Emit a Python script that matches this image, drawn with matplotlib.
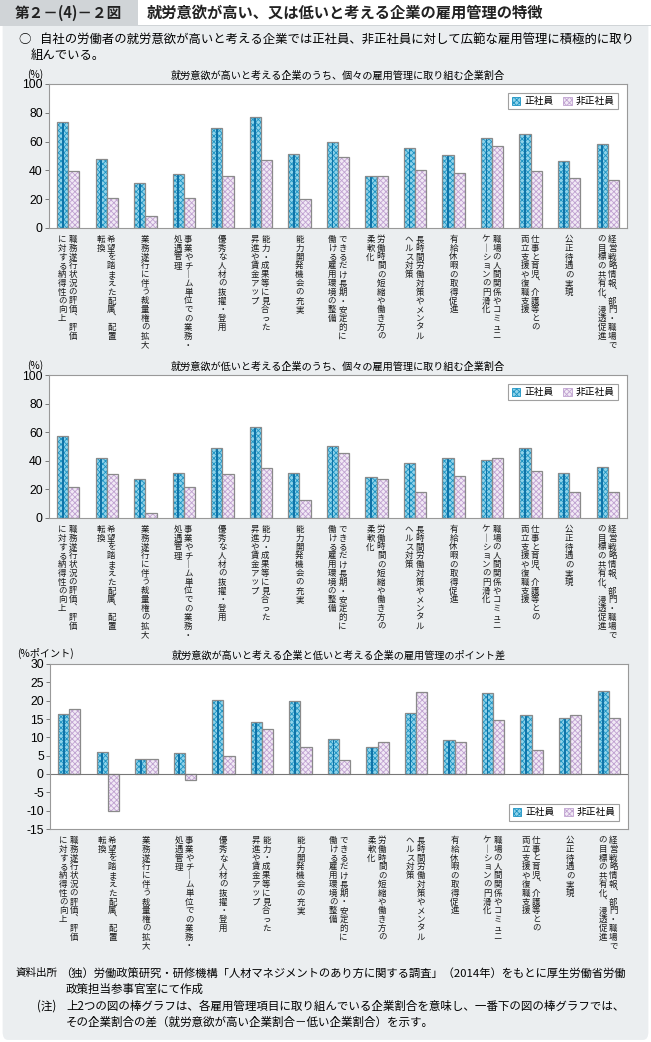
import numpy as np
import matplotlib
matplotlib.use('Agg')
import matplotlib.pyplot as plt
from matplotlib.patches import Patch, Rectangle, FancyBboxPatch
from matplotlib.transforms import offset_copy

plt.rcParams['font.family'] = ['Noto Sans CJK JP', 'DejaVu Sans']
plt.rcParams['hatch.linewidth'] = 0.6
plt.rcParams['axes.unicode_minus'] = False

# ---- data -------------------------------------------------------------
categories = [
    ['職務遂行状況の評価、評価', 'に対する納得性の向上'],
    ['希望を踏まえた配属、配置', '転換'],
    ['業務遂行に伴う裁量権の拡大'],
    ['事業やチーム単位での業務・', '処遇管理'],
    ['優秀な人材の抜擢・登用'],
    ['能力・成果等に見合った', '昇進や賃金アップ'],
    ['能力開発機会の充実'],
    ['できるだけ長期・安定的に', '働ける雇用環境の整備'],
    ['労働時間の短縮や働き方の', '柔軟化'],
    ['長時間労働対策やメンタル', 'ヘルス対策'],
    ['有給休暇の取得促進'],
    ['職場の人間関係やコミュニ', 'ケーションの円滑化'],
    ['仕事と育児、介護等との', '両立支援や復職支援'],
    ['公正待遇の実現'],
    ['経営戦略情報、部門・職場で', 'の目標の共有化、浸透促進'],
]
series_names = ['正社員', '非正社員']

high_regular = [73.6, 47.7, 31.2, 37.5, 69.2, 77.3, 51.4, 59.7, 35.9, 55.3, 50.9, 62.5, 65.0, 46.8, 58.3]
high_nonreg = [39.6, 20.8, 8.1, 20.8, 36.1, 47.0, 20.1, 49.3, 36.1, 40.5, 38.2, 57.2, 39.4, 34.5, 33.3]

low_regular = [57.4, 41.9, 27.4, 31.4, 48.8, 63.5, 31.4, 50.3, 28.8, 38.6, 41.9, 40.5, 48.8, 31.4, 35.8]
low_nonreg = [21.9, 30.9, 3.7, 21.9, 30.9, 34.9, 12.6, 45.8, 27.4, 18.1, 29.3, 41.9, 32.8, 18.1, 18.1]

diff_regular = [16.3, 6.1, 4.2, 5.7, 20.3, 14.1, 19.9, 9.5, 7.3, 16.6, 9.2, 22.1, 16.1, 15.3, 22.6]
diff_nonreg = [17.7, -10.1, 4.2, -1.5, 4.8, 12.2, 7.5, 3.7, 8.8, 22.3, 8.8, 14.7, 6.5, 16.0, 15.3]

titles = [
    '就労意欲が高いと考える企業のうち、個々の雇用管理に取り組む企業割合',
    '就労意欲が低いと考える企業のうち、個々の雇用管理に取り組む企業割合',
    '就労意欲が高いと考える企業と低いと考える企業の雇用管理のポイント差',
]

# ---- figure -----------------------------------------------------------
W, H = 651, 1042
fig = plt.figure(figsize=(W / 100, H / 100), dpi=100)
fig.patch.set_facecolor('white')

BLUE_FILL = '#8fd3ea'
BLUE_HATCH = '#1c93c3'
BLUE_DARK = '#0f73a8'
PURP_FILL = '#f1e9f5'
PURP_HATCH = '#c0a2d1'
EDGE = '#8a8a8a'
VERT = {'ー': '｜', '、': '︑', '。': '︒'}


def px_axes(left, top, right, bottom):
    return fig.add_axes([left / W, 1 - bottom / H, (right - left) / W, (bottom - top) / H])


def fig_text(x, y, s, **kw):
    fig.text(x / W, 1 - y / H, s, **kw)


def draw_chart(ax, reg, non, ylim, yticks, title, ylabel, ylabel_x, legend_loc):
    x = np.arange(len(reg))
    w = 0.29
    ax.set_facecolor('white')
    ax.bar(x - w / 2, reg, w, color=BLUE_FILL, edgecolor=BLUE_HATCH, hatch='xxxxxx', linewidth=0)
    ax.bar(x - w / 2, reg, w * 0.16, color=BLUE_DARK, linewidth=0)
    ax.bar(x - w / 2, reg, w, fill=False, edgecolor=EDGE, linewidth=0.9)
    ax.bar(x + w / 2, non, w, color=PURP_FILL, edgecolor=PURP_HATCH, hatch='xxxxxx', linewidth=0)
    ax.bar(x + w / 2, non, w, fill=False, edgecolor=EDGE, linewidth=0.9)
    if ylim[0] < 0:
        ax.axhline(0, color='#777777', linewidth=0.8)
    ax.set_xlim(-0.5, len(reg) - 0.5)
    ax.set_ylim(*ylim)
    ax.set_yticks(yticks)
    ax.set_xticks([])
    ax.tick_params(axis='y', direction='out', length=3, width=0.6, color='#666666',
                   labelsize=8.8, pad=1.5, labelfontfamily='Liberation Sans')
    for sp in ax.spines.values():
        sp.set_color('#999999')
        sp.set_linewidth(0.8)
    ax.text(0.5, 1.02, title, transform=ax.transAxes, ha='center', va='bottom', fontsize=7.3)
    ax.text(ylabel_x, 1.03, ylabel, transform=ax.transAxes, ha='left', va='bottom', fontsize=7.3)

    handles = [Patch(facecolor=BLUE_FILL, edgecolor=BLUE_HATCH, hatch='xxxxxx', linewidth=0.6),
               Patch(facecolor=PURP_FILL, edgecolor=PURP_HATCH, hatch='xxxxxx', linewidth=0.6)]
    if legend_loc == 'upper':
        loc, anchor = 'upper right', (0.985, 0.94)
    else:
        loc, anchor = 'lower right', (0.985, 0.05)
    leg = ax.legend(handles, series_names, loc=loc, bbox_to_anchor=anchor,
                    ncol=2, fontsize=7, frameon=True, fancybox=False, handlelength=0.9,
                    handleheight=0.9, handletextpad=0.4, columnspacing=1.0,
                    borderpad=0.35, borderaxespad=0)
    leg.get_frame().set_edgecolor('#888888')
    leg.get_frame().set_linewidth(0.8)

    # vertical category labels (first line on the right, as in tategaki)
    step = 8.8
    start = 7
    for i, lines in enumerate(categories):
        cols = [0] if len(lines) == 1 else [4.5, -6]
        for line, dx in zip(lines, cols):
            for j, ch in enumerate(line):
                tr = offset_copy(ax.get_xaxis_transform(), fig=fig, x=dx,
                                 y=-(start + step * (j + 0.5)), units='dots')
                ax.text(i, 0, VERT.get(ch, ch), transform=tr, ha='center', va='center',
                        fontsize=6.1, clip_on=False, color='#1a1a1a')


# background panel and header (behind the axes)
fig.patches.append(FancyBboxPatch((0.004, 0.002), 0.992, 0.99, transform=fig.transFigure,
                                  boxstyle='round,pad=0,rounding_size=0.008',
                                  facecolor='#ebeef0', edgecolor='none', zorder=-10))
fig.patches.append(Rectangle((0, 1 - 26 / H), 1, 26 / H, transform=fig.transFigure,
                             facecolor='#d0d4d7', edgecolor='none', zorder=-9))
fig.patches.append(Rectangle((138 / W, 1 - 25 / H), (W - 138) / W, 25 / H,
                             transform=fig.transFigure, facecolor='white', edgecolor='none',
                             zorder=-8))
fig_text(15, 13, '第２－(4)－２図', fontsize=10.5, fontweight='bold', va='center', color='#222222')
fig_text(147, 13, '就労意欲が高い、又は低いと考える企業の雇用管理の特徴', fontsize=11,
         fontweight='bold', va='center', color='#222222')
fig_text(18, 40, '○', fontsize=9, va='center')
fig_text(40, 40, '自社の労働者の就労意欲が高いと考える企業では正社員、非正社員に対して広範な雇用管理に積極的に取り',
         fontsize=8.9, va='center')
fig_text(31, 55, '組んでいる。', fontsize=8.9, va='center')

ax1 = px_axes(49, 84, 627, 228)
draw_chart(ax1, high_regular, high_nonreg, (0, 100), [0, 20, 40, 60, 80, 100], titles[0],
           '(%)', -0.038, 'upper')

ax2 = px_axes(49, 375, 627, 518)
draw_chart(ax2, low_regular, low_nonreg, (0, 100), [0, 20, 40, 60, 80, 100], titles[1],
           '(%)', -0.038, 'upper')

ax3 = px_axes(50, 664, 628, 829)
draw_chart(ax3, diff_regular, diff_nonreg, (-15, 30), list(range(-15, 31, 5)), titles[2],
           '(%ポイント)', -0.057, 'lower')

# source / notes
fs = 8.3
fig_text(16, 973, '資料出所', fontsize=7.6, va='center')
fig_text(60, 973, '（独）労働政策研究・研修機構「人材マネジメントのあり方に関する調査」（2014年）をもとに厚生労働省労働',
         fontsize=8.15, va='center')
fig_text(66, 989, '政策担当参事官室にて作成', fontsize=fs, va='center')
fig_text(37, 1006, '(注)', fontsize=fs, va='center')
fig_text(66, 1006, '上2つの図の棒グラフは、各雇用管理項目に取り組んでいる企業割合を意味し、一番下の図の棒グラフでは、',
         fontsize=fs, va='center')
fig_text(66, 1022, 'その企業割合の差（就労意欲が高い企業割合－低い企業割合）を示す。', fontsize=fs, va='center')

fig.savefig('out.png', dpi=100, facecolor=fig.get_facecolor())
